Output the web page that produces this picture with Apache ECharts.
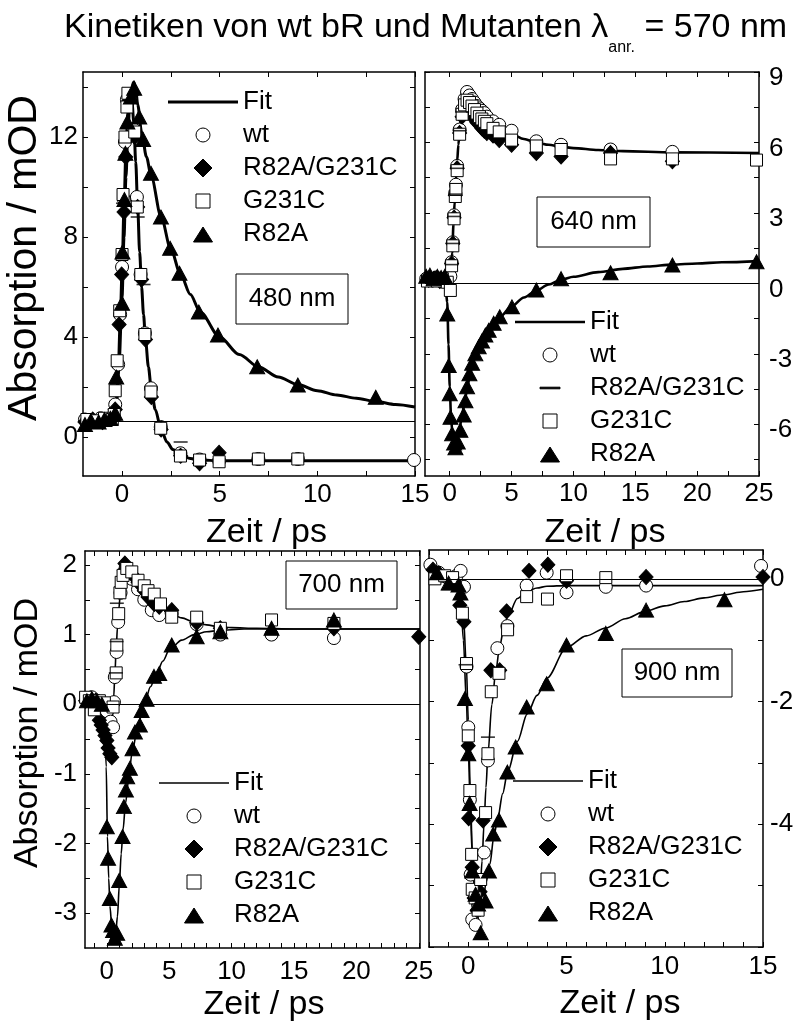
<!DOCTYPE html>
<html>
<head>
<meta charset="utf-8">
<script src="https://cdn.jsdelivr.net/npm/echarts@6.0.0/dist/echarts.min.js"></script>
<style>html,body{margin:0;padding:0;background:#fff}#c{width:798px;height:1027px}</style>
</head>
<body>
<div id="c"></div>
<script>
// ================= DATA =================
const seriesNames = ['Fit', 'wt', 'R82A/G231C', 'G231C', 'R82A'];
const panelLabels = ['480 nm', '640 nm', '700 nm', '900 nm'];

// tick values / tick labels
const ticksX480 = [0, 2.5, 5, 7.5, 10, 12.5, 15];
const labelsX480 = [0, 5, 10, 15];
const ticksY480 = [0, 2, 4, 6, 8, 10, 12, 14];
const labelsY480 = [0, 4, 8, 12];
const ticksX640 = [0, 2.5, 5, 7.5, 10, 12.5, 15, 17.5, 20, 22.5, 25];
const labelsX640 = [0, 5, 10, 15, 20, 25];
const ticksY640 = [-7.5, -6, -4.5, -3, -1.5, 0, 1.5, 3, 4.5, 6, 7.5, 9];
const labelsY640 = [-6, -3, 0, 3, 6, 9];
const ticksX700 = [-1, 0, 1, 2, 3, 4, 5, 6, 7, 8, 9, 10, 11, 12, 13, 14, 15, 16, 17, 18, 19, 20, 21, 22, 23, 24, 25];
const labelsX700 = [0, 5, 10, 15, 20, 25];
const ticksY700 = [-3, -2.5, -2, -1.5, -1, -0.5, 0, 0.5, 1, 1.5, 2];
const labelsY700 = [-3, -2, -1, 0, 1, 2];
const ticksX900 = [-2, -1, 0, 1, 2, 3, 4, 5, 6, 7, 8, 9, 10, 11, 12, 13, 14, 15];
const labelsX900 = [0, 5, 10, 15];
const ticksY900 = [-6, -5, -4, -3, -2, -1, 0];
const labelsY900 = [-4, -2, 0];

// horizontal reference lines
const baseline480 = 0.64, baseline640 = 0, baseline700 = 0, baseline900 = 0;

// ---- 480 nm ----
const wt480 = [[-1.9,0.7],[-1.5,0.6],[-1.1,0.75],[-0.7,0.7],[-0.45,0.85],[-0.35,1.3],[-0.2,2.9],[-0.1,4.9],[0.0,6.8],[0.1,9.5],[0.15,11.8],[0.25,13.5],[0.4,13.6],[0.6,12.3],[0.76,9.6],[0.95,6.5],[1.17,4.15],[1.48,1.95],[1.98,0.4],[2.99,-0.65],[3.97,-0.9],[4.97,-0.95],[6.98,-0.88],[9.0,-0.88],[14.95,-0.92]];
const dm480 = [[-1.9,0.6],[-1.5,0.7],[-1.0,0.6],[-0.6,0.75],[-0.35,1.1],[-0.15,4.5],[-0.02,6.5],[0.1,9.0],[0.19,11.2],[0.3,13.4],[0.5,13.7],[0.65,12.0],[0.8,9.2],[1.0,6.3],[1.2,3.9],[1.5,1.6],[2.0,0.3],[3.0,-0.75],[3.97,-1.05],[4.97,-0.63]];
const g231c480 = [[-1.8,0.7],[-1.3,0.65],[-0.9,0.75],[-0.5,0.7],[-0.4,0.9],[-0.35,1.85],[-0.25,3.05],[-0.12,5.05],[0.0,7.3],[0.05,9.7],[0.15,12.0],[0.25,13.2],[0.3,13.75],[0.65,12.2],[0.78,9.2],[0.96,6.5],[1.17,4.1],[1.48,1.8],[1.98,0.35],[2.99,-0.76],[3.97,-0.92],[4.97,-0.99],[6.98,-0.88],[9.0,-0.88]];
const r82a480 = [[-1.9,0.5],[-1.6,0.65],[-1.2,0.6],[-0.9,0.7],[-0.6,0.75],[-0.35,0.95],[-0.3,2.4],[0.0,5.35],[0.02,7.4],[0.12,9.5],[0.17,11.35],[0.27,12.6],[0.45,13.6],[0.62,13.95],[0.88,12.8],[1.08,11.9],[1.48,10.55],[1.99,8.8],[2.46,7.55],[2.94,6.55],[3.93,5.0],[4.91,4.08],[6.92,2.81],[9.0,2.08],[12.99,1.59]];
const dash480 = [[0.05,9.35],[0.8,8.8],[1.1,6.1],[3.0,-0.2]];
const fitA480 = [[-2,0.62],[-1,0.7],[-0.5,0.8],[-0.3,1.2],[-0.2,2.5],[-0.1,4.5],[0,6.6],[0.1,9.2],[0.2,11.5],[0.3,13.0],[0.4,13.6],[0.5,13.5],[0.6,12.6],[0.7,11.0],[0.8,9.2],[0.9,7.4],[1.0,6.0],[1.1,4.9],[1.2,3.9],[1.35,2.8],[1.5,1.9],[1.7,1.1],[2.0,0.3],[2.3,-0.2],[2.6,-0.5],[3.0,-0.72],[3.5,-0.86],[4.0,-0.92],[5,-0.95],[7,-0.95],[15,-0.95]];
const fitB480 = [[-2,0.6],[-1,0.7],[-0.5,0.8],[-0.3,1.3],[-0.15,3.0],[0,5.6],[0.1,8.0],[0.2,10.4],[0.3,12.2],[0.4,13.4],[0.5,14.0],[0.6,14.2],[0.7,13.9],[0.8,13.3],[1.0,12.2],[1.25,11.2],[1.5,10.4],[2,8.8],[2.5,7.5],[3,6.5],[3.5,5.7],[4,5.0],[5,4.0],[6,3.3],[7,2.8],[8,2.4],[9,2.1],[10,1.85],[11,1.68],[12,1.55],[13,1.42],[14,1.3],[15,1.2]];

// ---- 640 nm ----
const wt640 = [[-1.9,0.2],[-1.5,0.15],[-1.1,0.25],[-0.7,0.15],[-0.3,0.2],[0.05,0.3],[0.15,0.9],[0.25,1.75],[0.35,2.9],[0.45,3.85],[0.5,4.2],[0.6,5.0],[0.8,6.55],[1.0,7.4],[1.2,7.85],[1.4,8.15],[1.6,8.0],[1.8,7.85],[2.0,7.7],[2.2,7.55],[2.4,7.45],[2.6,7.35],[2.8,7.25],[3.0,7.1],[3.5,6.9],[4.0,6.75],[5.0,6.5],[7.0,6.05],[9.0,5.9],[13.0,5.7],[18.0,5.6]];
const dm640 = [[-1.7,0.15],[-1.2,0.2],[-0.8,0.1],[-0.4,0.15],[0.15,0.85],[0.25,1.7],[0.35,2.8],[0.45,3.75],[0.6,4.9],[0.8,6.4],[1.0,7.1],[1.2,7.4],[1.4,7.5],[1.6,7.4],[1.8,7.2],[2.0,7.0],[2.2,6.85],[2.4,6.75],[2.6,6.6],[2.8,6.5],[3.0,6.4],[3.5,6.3],[4.0,6.1],[5.0,5.9],[7.0,5.55],[9.0,5.4],[13.0,5.55],[18.0,5.2]];
const g231c640 = [[-1.8,0.1],[-1.4,0.2],[-1.0,0.1],[-0.6,0.2],[-0.2,0.05],[0.05,-0.3],[0.15,0.75],[0.25,1.6],[0.35,2.75],[0.45,3.7],[0.5,4.0],[0.6,4.8],[0.8,6.35],[1.0,7.2],[1.2,7.6],[1.4,7.8],[1.6,7.7],[1.8,7.55],[2.0,7.4],[2.2,7.25],[2.4,7.1],[2.6,7.0],[2.8,6.9],[3.0,6.8],[3.5,6.6],[4.0,6.45],[5.0,6.1],[7.0,5.85],[9.0,5.7],[13.0,5.3],[18.0,5.3],[24.8,5.25]];
const r82a640 = [[-1.9,0.3],[-1.6,0.35],[-1.3,0.2],[-1.0,0.3],[-0.7,0.25],[-0.4,0.3],[-0.2,-1.3],[-0.08,-3.5],[0.0,-4.7],[0.06,-5.7],[0.19,-6.4],[0.35,-6.8],[0.46,-7.0],[0.65,-6.75],[0.86,-6.25],[1.13,-5.6],[1.27,-5.0],[1.4,-4.4],[1.59,-3.85],[1.81,-3.4],[2.07,-3.0],[2.34,-2.7],[2.61,-2.45],[2.88,-2.2],[3.15,-2.0],[3.55,-1.7],[4.04,-1.42],[5.03,-1.0],[7.0,-0.28],[9.0,0.2],[13.0,0.45],[18.0,0.78],[24.8,0.92]];
const dash640 = [[0.15,0.8],[0.25,1.7],[0.35,2.85],[0.45,3.8],[0.6,4.9],[0.8,6.5],[1.0,7.3]];
const fitA640 = [[-2,0.15],[-0.1,0.15],[0.0,0.3],[0.1,0.6],[0.2,1.3],[0.3,2.5],[0.4,3.5],[0.5,4.4],[0.6,5.2],[0.7,5.9],[0.8,6.5],[0.9,7.0],[1.0,7.35],[1.1,7.6],[1.2,7.75],[1.4,7.85],[1.6,7.8],[1.8,7.65],[2.0,7.5],[2.5,7.2],[3.0,6.95],[3.5,6.75],[4,6.6],[5,6.35],[6,6.15],[7,6.0],[8,5.9],[9,5.82],[10,5.76],[12,5.68],[14,5.63],[18,5.58],[25,5.55]];
const fitB640 = [[-2,0.3],[-0.4,0.3],[-0.2,-0.8],[-0.1,-2.6],[0,-4.4],[0.1,-5.6],[0.2,-6.3],[0.3,-6.7],[0.4,-6.85],[0.5,-6.8],[0.6,-6.6],[0.8,-6.15],[1.0,-5.6],[1.2,-5.05],[1.4,-4.5],[1.6,-4.0],[1.8,-3.55],[2.0,-3.2],[2.5,-2.55],[3.0,-2.1],[3.5,-1.75],[4,-1.45],[5,-0.98],[6,-0.6],[7,-0.3],[8,-0.05],[9,0.15],[10,0.28],[12,0.48],[14,0.62],[16,0.72],[18,0.8],[20,0.85],[22,0.9],[25,0.95]];

// ---- 700 nm ----
const wt700 = [[-1.6,0.08],[-1.2,0.1],[-0.8,0.05],[-0.4,0.0],[0.0,-0.1],[0.3,-0.25],[0.5,-0.33],[0.57,0.03],[0.64,0.39],[0.78,0.75],[0.91,1.18],[1.1,1.6],[1.3,1.8],[1.5,1.95],[2.0,1.8],[2.5,1.65],[3.0,1.5],[3.6,1.35],[4.2,1.28],[5.2,1.3],[7.2,1.15],[9.1,1.0],[13.2,1.0],[18.2,0.95]];
const dm700 = [[-1.7,0.05],[-1.3,0.08],[-0.9,0.05],[-0.6,-0.23],[-0.45,-0.3],[-0.3,-0.37],[-0.15,-0.45],[0.0,-0.52],[0.1,-0.63],[0.24,-0.71],[0.4,-0.76],[1.4,1.92],[1.45,2.02],[1.6,1.95],[1.8,1.9],[2.1,1.85],[2.5,1.75],[3.0,1.63],[3.3,1.54],[3.8,1.44],[4.2,1.4],[5.2,1.35],[7.2,1.17],[9.1,1.09],[18.2,1.09],[25.0,0.97]];
const g231c700 = [[-1.7,0.1],[-1.4,0.05],[-1.0,-0.08],[-0.6,0.05],[-0.2,0.02],[0.5,-0.04],[0.75,0.45],[0.8,0.85],[0.95,1.3],[1.05,1.6],[1.15,1.75],[1.3,1.85],[1.6,1.95],[2.0,1.9],[2.5,1.78],[3.0,1.7],[3.3,1.63],[3.8,1.58],[4.3,1.44],[5.2,1.25],[7.2,1.25],[9.1,1.09],[13.2,1.21],[18.2,1.16]];
const r82a700 = [[-1.6,0.05],[-1.2,0.08],[-0.8,0.05],[-0.4,0.0],[0.0,-1.76],[0.1,-2.21],[0.24,-2.79],[0.37,-3.17],[0.5,-3.25],[0.64,-3.36],[0.83,-3.29],[0.99,-2.53],[1.26,-1.9],[1.37,-1.47],[1.53,-1.23],[1.63,-1.04],[1.85,-0.92],[2.06,-0.64],[2.25,-0.4],[2.65,-0.3],[2.79,-0.09],[3.19,0.07],[3.78,0.4],[4.2,0.44],[5.2,0.85],[7.2,0.97],[9.1,1.04],[13.2,1.09],[18.2,1.21]];
const dash700 = [[0.72,0.45],[0.78,0.9],[0.8,1.45]];
const fitA700 = [[-1.8,0.03],[-1.0,0.03],[-0.5,0.0],[0,-0.12],[0.3,-0.28],[0.45,-0.2],[0.55,0.1],[0.65,0.45],[0.75,0.8],[0.85,1.1],[0.95,1.35],[1.1,1.62],[1.25,1.8],[1.4,1.9],[1.6,1.93],[1.8,1.9],[2.0,1.85],[2.5,1.72],[3.0,1.6],[3.5,1.5],[4,1.43],[5,1.32],[6,1.24],[7,1.18],[8,1.14],[9,1.11],[10,1.1],[12,1.09],[15,1.08],[25.1,1.08]];
const fitB700 = [[-1.8,0.03],[-0.4,0.03],[-0.2,-0.1],[-0.05,-0.9],[0.05,-1.9],[0.15,-2.5],[0.25,-2.9],[0.4,-3.2],[0.55,-3.32],[0.7,-3.3],[0.85,-3.05],[1.0,-2.6],[1.15,-2.15],[1.3,-1.8],[1.5,-1.42],[1.75,-1.08],[2.0,-0.72],[2.5,-0.3],[3.0,0.0],[3.5,0.25],[4.0,0.45],[4.5,0.62],[5,0.78],[6,0.92],[7,1.0],[8,1.04],[9,1.06],[11,1.08],[15,1.08],[25.1,1.08]];

// ---- 900 nm ----
const wt900 = [[-1.93,0.23],[-1.5,0.1],[-1.0,0.0],[-0.6,0.05],[-0.39,0.13],[-0.22,-0.13],[-0.09,-1.43],[0.0,-2.42],[0.08,-3.6],[0.12,-4.82],[0.2,-5.55],[0.37,-5.64],[0.5,-5.3],[0.8,-4.46],[1.0,-2.96],[1.48,-1.13],[1.99,-0.77],[2.97,-0.11],[3.99,0.1],[5.0,-0.22],[7.0,-0.13],[9.05,-0.11],[14.9,0.21]];
const dm900 = [[-1.8,0.15],[-1.5,0.09],[-1.0,0.0],[-0.7,-0.05],[-0.43,-0.43],[-0.22,-0.7],[0.0,-2.72],[0.02,-3.9],[0.2,-4.7],[0.3,-5.2],[0.45,-5.4],[0.6,-5.1],[0.75,-3.94],[1.15,-1.49],[1.6,-1.49],[1.95,-0.53],[3.09,0.13],[4.05,0.23],[5.0,-0.03],[9.05,0.03],[15.0,0.03]];
const g231c900 = [[-1.7,0.0],[-1.2,0.05],[-0.8,0.02],[-0.3,-0.56],[-0.09,-1.38],[0.0,-2.56],[0.08,-3.45],[0.17,-4.49],[0.2,-5.06],[0.35,-5.2],[0.5,-5.4],[0.63,-4.9],[0.88,-3.81],[1.0,-2.85],[1.17,-1.84],[1.56,-1.54],[2.0,-0.83],[2.97,-0.29],[4.03,-0.33],[5.0,0.05],[7.0,0.02]];
const r82a900 = [[-1.6,0.1],[-1.0,-0.07],[-0.5,-0.1],[-0.4,-0.23],[-0.17,-1.95],[0.0,-2.85],[0.07,-3.66],[0.2,-4.76],[0.37,-5.14],[0.5,-5.3],[0.63,-5.77],[0.88,-5.25],[1.05,-4.76],[1.27,-4.16],[1.56,-3.93],[1.99,-3.15],[2.41,-2.74],[2.97,-2.09],[3.99,-1.71],[5.0,-1.08],[7.0,-0.89],[9.05,-0.51],[13.04,-0.34]];
const dash900 = [[-0.14,-1.4],[1.0,-2.58]];
const fitA900 = [[-2,0.0],[-0.6,-0.05],[-0.4,-0.2],[-0.25,-0.6],[-0.1,-1.4],[0,-2.3],[0.1,-3.4],[0.2,-4.4],[0.3,-5.0],[0.4,-5.3],[0.5,-5.35],[0.6,-5.1],[0.7,-4.6],[0.8,-4.0],[0.9,-3.4],[1.0,-2.85],[1.2,-2.05],[1.4,-1.5],[1.6,-1.1],[1.8,-0.82],[2.0,-0.62],[2.5,-0.32],[3.0,-0.2],[3.5,-0.15],[4,-0.12],[5,-0.11],[15,-0.11]];
const fitB900 = [[-2,0.0],[-0.6,-0.08],[-0.4,-0.25],[-0.25,-1.0],[-0.1,-2.0],[0,-2.8],[0.1,-3.7],[0.2,-4.5],[0.3,-5.0],[0.45,-5.4],[0.6,-5.5],[0.75,-5.3],[0.9,-4.95],[1.1,-4.65],[1.3,-4.2],[1.5,-3.9],[1.75,-3.5],[2.0,-3.15],[2.5,-2.65],[3.0,-2.2],[3.5,-1.9],[4.0,-1.62],[5,-1.12],[6,-0.93],[7,-0.8],[8,-0.65],[9,-0.53],[10,-0.44],[11,-0.37],[12,-0.31],[13,-0.26],[14,-0.21],[15,-0.17]];

// ================= LAYOUT / STYLE =================
const FONT = '"Liberation Sans", Arial, Helvetica, sans-serif';
const panels = [
  {grid:{left:83,top:72,width:332,height:404}, xr:[-2,15], yr:[-1.56,14.6], xt:ticksX480, xl:labelsX480, yt:ticksY480, yl:labelsY480,
   ySide:'left', xMargin:6, yMargin:5, yShift:false, xNamePad:35, yName:true, yNameSize:41, yNameGap:24, yNamePad:32, fitW:3, base:baseline480,
   data:{wt:wt480, dm:dm480, g:g231c480, r:r82a480, dash:dash480, fits:[fitA480, fitB480]},
   legend:{left:168, top:89}, box:{x:236,y:274,w:112,h:50}},
  {grid:{left:425,top:72,width:334,height:404}, xr:[-2,25], yr:[-8.2,9], xt:ticksX640, xl:labelsX640, yt:ticksY640, yl:labelsY640,
   ySide:'right', xMargin:5, yMargin:10, yShift:true, xNamePad:26, yName:false, fitW:2.6, base:baseline640,
   data:{wt:wt640, dm:dm640, g:g231c640, r:r82a640, dash:dash640, fits:[fitA640, fitB640]},
   legend:{left:515, top:309}, dashLegend:true, box:{x:537,y:197,w:113,h:50}},
  {grid:{left:85,top:551,width:335,height:397}, xr:[-1.75,25.1], yr:[-3.5,2.2], xt:ticksX700, xl:labelsX700, yt:ticksY700, yl:labelsY700,
   ySide:'left', xMargin:11, yMargin:8, yShift:false, xNamePad:23, yName:true, yNameSize:34, yNameGap:40, yNamePad:33, fitW:1.6, base:baseline700,
   data:{wt:wt700, dm:dm700, g:g231c700, r:r82a700, dash:dash700, fits:[fitA700, fitB700]},
   legend:{left:159, top:770}, box:{x:286,y:561,w:111,h:48}},
  {grid:{left:429,top:550,width:334,height:397}, xr:[-2,15], yr:[-6,0.47], xt:ticksX900, xl:labelsX900, yt:ticksY900, yl:labelsY900,
   ySide:'right', xMargin:7, yMargin:7, yShift:false, xNamePad:48, yName:false, fitW:1.6, base:baseline900,
   data:{wt:wt900, dm:dm900, g:g231c900, r:r82a900, dash:dash900, fits:[fitA900, fitB900]},
   legend:{left:513, top:768}, box:{x:622,y:649,w:110,h:48}}
];

const MARK = {
  wt:{name:seriesNames[1], symbol:'circle', size:13, fill:'#fff'},
  dm:{name:seriesNames[2], symbol:'diamond', size:[14,15], fill:'#000'},
  g:{name:seriesNames[3], symbol:'rect', size:12, fill:'#fff'},
  r:{name:seriesNames[4], symbol:'triangle', size:[15,14], fill:'#000'}
};
// legend icons drawn inside a square 18x18 box (corner moveTo's fix the box)
const ICON = {
  circle:'path://M0,0M2,9A7,7 0 1,1 16,9A7,7 0 1,1 2,9ZM18,18',
  dash:'path://M0,0M-1,8.2L19,8.2L19,9.8L-1,9.8ZM18,18',
  diamond:'path://M0,0M9,0L18,9L9,18L0,9ZM18,18',
  square:'path://M0,0M2,2L16,2L16,16L2,16ZM18,18',
  triangle:'path://M0,0M9,2L18.5,17L-0.5,17ZM18,18'
};
const fitIcon = (w) => 'path://M0,0L70,0L70,' + w + 'L0,' + w + 'Z';

const grids = [], xAxes = [], yAxes = [], series = [], legends = [], graphics = [];
const lineAxis = {show:true, onZero:false, lineStyle:{color:'#000', width:1.5}};

panels.forEach((p, i) => {
  grids.push(Object.assign({containLabel:false}, p.grid));
  const tick = (vals) => ({show:true, inside:true, length:5, customValues:vals, lineStyle:{color:'#000', width:1}});
  const lab = (vals, margin, shift) => {
    const o = {show:true, customValues:vals, fontSize:26, fontFamily:FONT, color:'#000', margin};
    if (shift) { o.verticalAlign = 'top'; o.lineHeight = 12; }
    return o;
  };
  xAxes.push({type:'value', gridIndex:i, position:'bottom', min:p.xr[0], max:p.xr[1],
    name:'Zeit / ps', nameLocation:'middle', nameGap:40,
    nameTextStyle:{fontSize:34, fontFamily:FONT, color:'#000', padding:[0,0,0,p.xNamePad]},
    axisLine:lineAxis, axisTick:tick(p.xt), axisLabel:lab(p.xl, p.xMargin, false), splitLine:{show:false}});
  xAxes.push({type:'value', gridIndex:i, position:'top', min:p.xr[0], max:p.xr[1],
    axisLine:lineAxis, axisTick:tick(p.xt), axisLabel:{show:false}, splitLine:{show:false}});
  const left = {type:'value', gridIndex:i, position:'left', min:p.yr[0], max:p.yr[1],
    axisLine:lineAxis, axisTick:tick(p.yt), splitLine:{show:false},
    axisLabel: p.ySide === 'left' ? lab(p.yl, p.yMargin, p.yShift) : {show:false}};
  if (p.yName) {
    left.name = 'Absorption / mOD'; left.nameLocation = 'middle'; left.nameGap = p.yNameGap;
    left.nameTextStyle = {fontSize:p.yNameSize, fontFamily:FONT, color:'#000', padding:[0,0,0,p.yNamePad]};
  }
  yAxes.push(left);
  yAxes.push({type:'value', gridIndex:i, position:'right', min:p.yr[0], max:p.yr[1],
    axisLine:lineAxis, axisTick:tick(p.yt), splitLine:{show:false},
    axisLabel: p.ySide === 'right' ? lab(p.yl, p.yMargin, p.yShift) : {show:false}});

  const xi = 2*i, yi = 2*i;
  p.data.fits.forEach((f, k) => {
    const s = {type:'line', name:seriesNames[0], xAxisIndex:xi, yAxisIndex:yi, data:f, symbol:'none', showSymbol:false,
      smooth:0.3, smoothMonotone:'x', lineStyle:{color:'#000', width:p.fitW}, itemStyle:{color:'#000'}, silent:true, z:2};
    if (k === 0) s.markLine = {silent:true, symbol:['none','none'], label:{show:false},
      lineStyle:{color:'#000', width:1, type:'solid'}, data:[{yAxis:p.base}]};
    series.push(s);
  });
  ['wt','dm','g','r'].forEach(key => {
    const m = MARK[key];
    series.push({type:'scatter', name:m.name, xAxisIndex:xi, yAxisIndex:yi, data:p.data[key],
      symbol:m.symbol, symbolSize:m.size, silent:true, z:3,
      itemStyle:{color:m.fill, borderColor:'#000', borderWidth:1, opacity:1}});
  });
  series.push({type:'scatter', name:'dash', xAxisIndex:xi, yAxisIndex:yi, data:p.data.dash,
    symbol:'rect', symbolSize:[14,1.6], silent:true, z:4, itemStyle:{color:'#000'}});

  legends.push({orient:'vertical', left:p.legend.left, top:p.legend.top, padding:0,
    itemWidth:70, itemHeight:18, itemGap:7, selectedMode:false, symbolKeepAspect:true,
    textStyle:{fontSize:26, fontFamily:FONT, color:'#000'},
    itemStyle:{borderWidth:1},
    data:[{name:seriesNames[0], icon:fitIcon(p.fitW), itemStyle:{color:'#000', borderWidth:0}},
      {name:seriesNames[1], icon:ICON.circle},
      {name:seriesNames[2], icon: p.dashLegend ? ICON.dash : ICON.diamond},
      {name:seriesNames[3], icon:ICON.square},
      {name:seriesNames[4], icon:ICON.triangle}]});

  graphics.push({type:'rect', z:100, shape:{x:p.box.x, y:p.box.y, width:p.box.w, height:p.box.h},
    style:{fill:'#fff', stroke:'#000', lineWidth:1}});
  graphics.push({type:'text', z:101, x:p.box.x + p.box.w/2, y:p.box.y + p.box.h/2,
    style:{text:panelLabels[i], fill:'#000', fontSize:26, fontFamily:FONT, align:'center', verticalAlign:'middle'}});
});

const chart = echarts.init(document.getElementById('c'), null, {renderer:'canvas'});
chart.setOption({
  backgroundColor:'#fff',
  animation:false,
  textStyle:{fontFamily:FONT},
  title:{text:'Kinetiken von wt bR und Mutanten λ{sub|anr.} = 570 nm', left:64, top:0, padding:0,
    textStyle:{fontSize:34, fontWeight:'normal', fontFamily:FONT, color:'#000', lineHeight:56,
      rich:{sub:{fontSize:16, lineHeight:16, verticalAlign:'bottom', fontFamily:FONT, color:'#000'}}}},
  grid:grids, xAxis:xAxes, yAxis:yAxes, legend:legends, series:series, graphic:graphics
});
</script>
</body>
</html>
